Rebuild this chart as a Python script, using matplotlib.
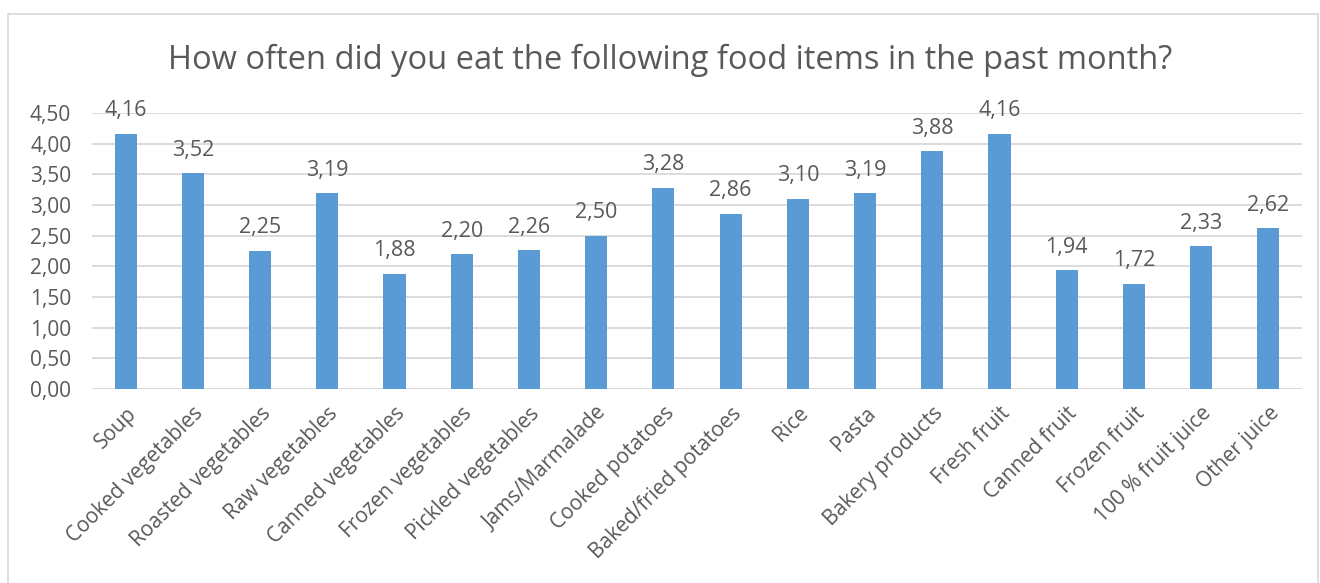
import matplotlib
matplotlib.use("Agg")
import matplotlib.pyplot as plt
from matplotlib.patches import Rectangle

categories = ["Soup", "Cooked vegetables", "Roasted vegetables", "Raw vegetables",
              "Canned vegetables", "Frozen vegetables", "Pickled vegetables",
              "Jams/Marmalade", "Cooked potatoes", "Baked/fried potatoes", "Rice",
              "Pasta", "Bakery products", "Fresh fruit", "Canned fruit",
              "Frozen fruit", "100 % fruit juice", "Other juice"]
values = [4.16, 3.52, 2.25, 3.19, 1.88, 2.20, 2.26, 2.50, 3.28, 2.86, 3.10,
          3.19, 3.88, 4.16, 1.94, 1.72, 2.33, 2.62]
yticks = [0, 0.5, 1.0, 1.5, 2.0, 2.5, 3.0, 3.5, 4.0, 4.5]

plt.rcParams['font.family'] = ['Open Sans', 'DejaVu Sans']
txt = "#595959"
W, H = 1320, 583
fig = plt.figure(figsize=(W/100, H/100), dpi=100)
fig.patches.append(Rectangle((8/W, -0.1), (1318-8)/W, 1 - 14/H + 0.1,
                             transform=fig.transFigure, fill=False,
                             edgecolor="#d9d9d9", linewidth=1.2))
ax = fig.add_axes([92/W, 1-389/H, (1302-92)/W, (389-113)/H])
x = list(range(len(categories)))
bars = ax.bar(x, values, width=0.33, color="#5b9bd5", zorder=3)
ax.set_xlim(-0.5, len(categories)-0.5)
ax.set_ylim(0, 4.5)
ax.set_yticks(yticks)
ax.set_yticklabels([f"{v:.2f}".replace(".", ",") for v in yticks], fontsize=15, color=txt)
ax.set_xticks(x)
ax.set_xticklabels(categories, rotation=45, ha="right", rotation_mode="anchor",
                   fontsize=15, color=txt)
ax.tick_params(axis="both", length=0)
ax.tick_params(axis="y", pad=15)
ax.tick_params(axis="x", pad=10)
ax.grid(axis="y", color="#d9d9d9", linewidth=1.3, zorder=0)
for s in ax.spines.values():
    s.set_visible(False)
for b, v in zip(bars, values):
    ax.annotate(f"{v:.2f}".replace(".", ","), (b.get_x()+b.get_width()/2, v),
                xytext=(0, 9), textcoords="offset points", ha="center", va="bottom",
                fontsize=15.5, color=txt)
fig.text(670/W, 1-60/H, "How often did you eat the following food items in the past month?",
         ha="center", va="center", fontsize=23.5, color=txt)
fig.savefig("out.png", dpi=100)
